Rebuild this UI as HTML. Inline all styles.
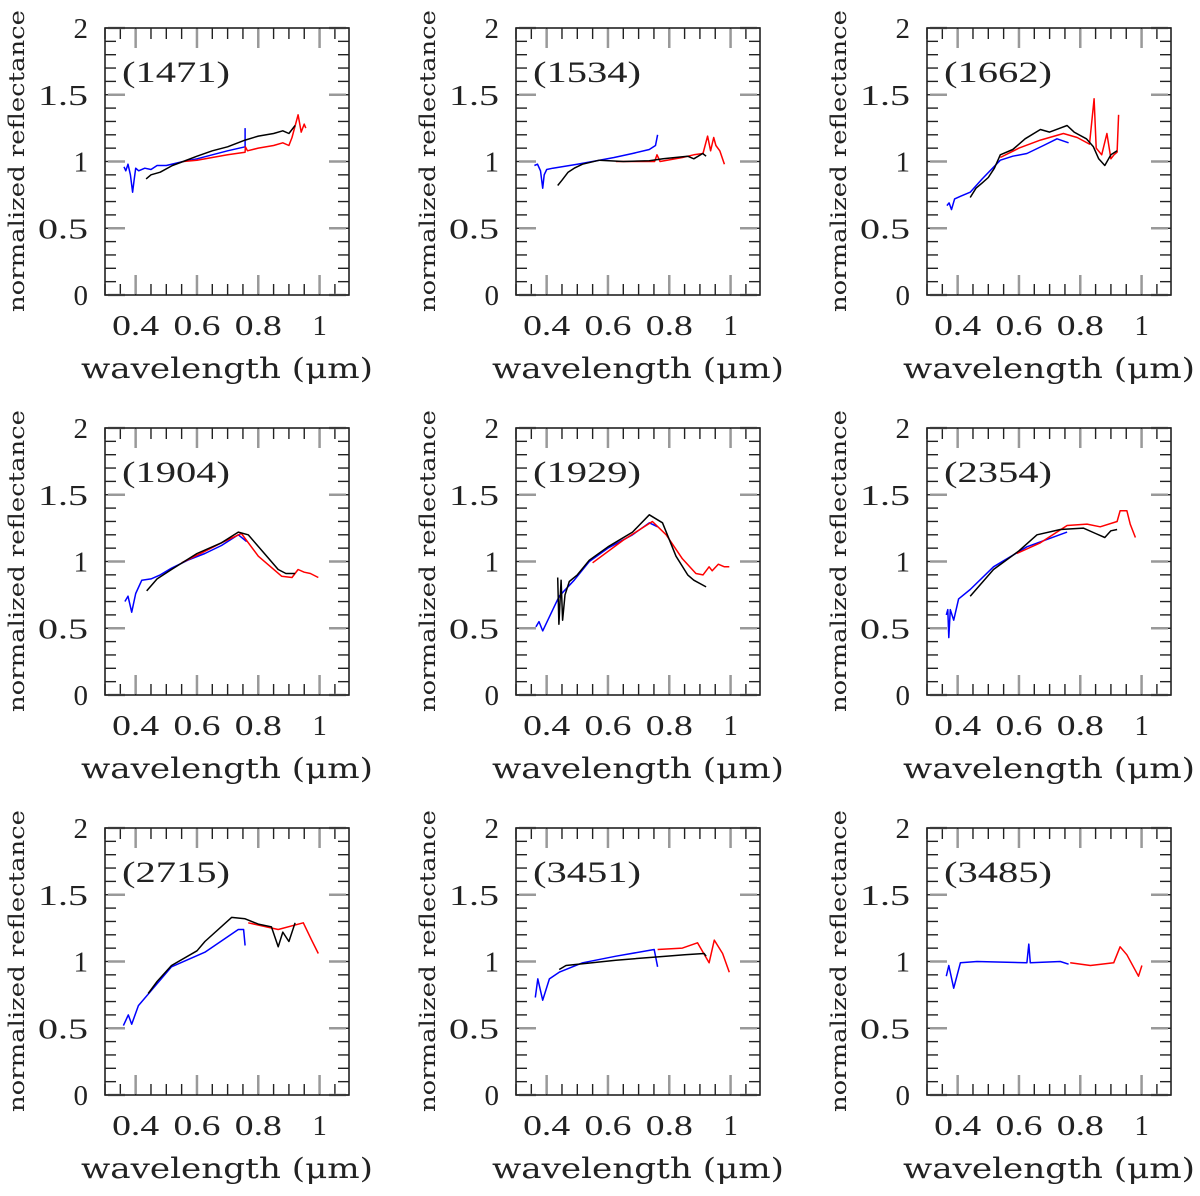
<!DOCTYPE html>
<html><head><meta charset="utf-8">
<style>
html,body{margin:0;padding:0;background:#fff;}
svg{display:block;}
text{font-family:"Liberation Serif",serif;fill:#222;}
text.title{font-family:"DejaVu Serif","Liberation Serif",serif;}
</style></head>
<body>
<svg id="fig" width="1200" height="1196" viewBox="0 0 1200 1196" xmlns="http://www.w3.org/2000/svg"></svg>
<script>
// ---- data: [wavelength (um), normalized reflectance] ----
const panelNames = ["(1471)","(1534)","(1662)","(1904)","(1929)","(2354)","(2715)","(3451)","(3485)"];
const xTicks = [0.4,0.6,0.8,1.0];
const xTickLabels = ["0.4","0.6","0.8","1"];
const yTicks = [0,0.5,1,1.5,2];
const yTickLabels = ["0","0.5","1","1.5","2"];

const blue1471 = [[0.362,0.96],[0.368,0.93],[0.375,0.98],[0.383,0.90],[0.39,0.77],[0.395,0.86],[0.40,0.95],[0.41,0.93],[0.43,0.95],[0.45,0.94],[0.47,0.97],[0.50,0.97],[0.555,1.0],[0.60,1.02],[0.65,1.05],[0.70,1.08],[0.757,1.11],[0.757,1.25]];
const black1471 = [[0.434,0.87],[0.45,0.90],[0.48,0.92],[0.52,0.97],[0.555,1.0],[0.60,1.04],[0.65,1.08],[0.70,1.11],[0.757,1.16],[0.80,1.19],[0.85,1.21],[0.88,1.23],[0.90,1.21],[0.92,1.27]];
const red1471 = [[0.555,1.0],[0.60,1.01],[0.65,1.03],[0.70,1.05],[0.757,1.07],[0.758,1.11],[0.765,1.08],[0.80,1.10],[0.85,1.12],[0.88,1.14],[0.90,1.12],[0.91,1.18],[0.93,1.35],[0.94,1.22],[0.95,1.28],[0.955,1.25]];

const blue1534 = [[0.36,0.97],[0.37,0.98],[0.38,0.93],[0.387,0.80],[0.392,0.90],[0.40,0.94],[0.42,0.95],[0.45,0.96],[0.50,0.98],[0.572,1.01],[0.62,1.03],[0.68,1.06],[0.735,1.09],[0.755,1.12],[0.762,1.2]];
const black1534 = [[0.436,0.82],[0.45,0.86],[0.47,0.92],[0.49,0.95],[0.517,0.98],[0.572,1.01],[0.65,1.0],[0.735,1.006],[0.78,1.02],[0.82,1.03],[0.86,1.04],[0.88,1.02],[0.909,1.06],[0.92,1.04]];
const red1534 = [[0.626,1.0],[0.70,1.0],[0.752,1.0],[0.76,1.05],[0.77,1.0],[0.843,1.03],[0.88,1.05],[0.91,1.06],[0.925,1.19],[0.935,1.08],[0.945,1.18],[0.952,1.12],[0.965,1.08],[0.98,0.98]];

const blue1662 = [[0.365,0.67],[0.372,0.69],[0.38,0.64],[0.39,0.72],[0.41,0.74],[0.441,0.77],[0.48,0.87],[0.539,1.01],[0.58,1.04],[0.626,1.06],[0.68,1.12],[0.724,1.17],[0.762,1.14]];
const black1662 = [[0.441,0.73],[0.46,0.80],[0.48,0.84],[0.50,0.88],[0.52,0.95],[0.539,1.05],[0.58,1.09],[0.62,1.17],[0.67,1.24],[0.70,1.22],[0.757,1.27],[0.78,1.22],[0.82,1.17],[0.843,1.11],[0.86,1.02],[0.88,0.97],[0.90,1.05],[0.92,1.08]];
const red1662 = [[0.539,1.03],[0.60,1.10],[0.67,1.16],[0.745,1.21],[0.79,1.18],[0.83,1.13],[0.845,1.47],[0.852,1.10],[0.87,1.05],[0.887,1.21],[0.90,1.02],[0.91,1.05],[0.92,1.07],[0.925,1.35]];

const blue1904 = [[0.365,0.70],[0.375,0.74],[0.387,0.62],[0.40,0.76],[0.42,0.86],[0.45,0.87],[0.48,0.90],[0.517,0.95],[0.57,1.01],[0.626,1.06],[0.68,1.12],[0.735,1.2],[0.762,1.15]];
const black1904 = [[0.436,0.78],[0.47,0.87],[0.517,0.94],[0.60,1.06],[0.68,1.14],[0.735,1.22],[0.767,1.2],[0.82,1.06],[0.865,0.94],[0.89,0.91],[0.92,0.91]];
const red1904 = [[0.55,0.99],[0.62,1.07],[0.68,1.14],[0.745,1.21],[0.80,1.04],[0.876,0.89],[0.91,0.88],[0.93,0.94],[0.95,0.92],[0.97,0.91],[0.996,0.88]];

const blue1929 = [[0.365,0.51],[0.375,0.55],[0.387,0.48],[0.41,0.59],[0.441,0.74],[0.49,0.86],[0.539,1.0],[0.60,1.10],[0.68,1.2],[0.735,1.29],[0.762,1.26]];
const black1929 = [[0.436,0.88],[0.44,0.53],[0.447,0.86],[0.452,0.56],[0.46,0.75],[0.474,0.85],[0.50,0.90],[0.539,1.01],[0.60,1.11],[0.68,1.22],[0.735,1.35],[0.778,1.29],[0.822,1.04],[0.86,0.90],[0.88,0.86],[0.92,0.81]];
const red1929 = [[0.55,0.99],[0.65,1.16],[0.745,1.3],[0.79,1.2],[0.843,1.02],[0.887,0.91],[0.91,0.90],[0.93,0.96],[0.94,0.93],[0.96,0.98],[0.98,0.96],[0.996,0.96]];

const blue2354 = [[0.363,0.60],[0.368,0.64],[0.371,0.43],[0.376,0.64],[0.387,0.56],[0.403,0.72],[0.441,0.79],[0.517,0.96],[0.626,1.11],[0.757,1.22]];
const black2354 = [[0.441,0.74],[0.517,0.94],[0.60,1.08],[0.659,1.2],[0.735,1.24],[0.81,1.25],[0.85,1.21],[0.88,1.18],[0.90,1.23],[0.92,1.24]];
const red2354 = [[0.593,1.06],[0.67,1.14],[0.757,1.27],[0.822,1.28],[0.865,1.26],[0.92,1.3],[0.93,1.38],[0.952,1.38],[0.963,1.28],[0.98,1.18]];

const blue2715 = [[0.36,0.52],[0.376,0.60],[0.387,0.53],[0.409,0.67],[0.517,0.96],[0.626,1.07],[0.735,1.24],[0.752,1.24],[0.757,1.12]];
const black2715 = [[0.441,0.76],[0.47,0.85],[0.517,0.97],[0.60,1.08],[0.626,1.15],[0.713,1.33],[0.757,1.32],[0.80,1.28],[0.843,1.26],[0.865,1.11],[0.88,1.22],[0.90,1.15],[0.92,1.29]];
const red2715 = [[0.767,1.29],[0.865,1.24],[0.947,1.29],[0.974,1.16],[0.996,1.06]];

const blue3451 = [[0.363,0.73],[0.371,0.87],[0.387,0.71],[0.409,0.87],[0.441,0.92],[0.517,0.99],[0.626,1.04],[0.751,1.09],[0.762,0.96]];
const black3451 = [[0.441,0.94],[0.463,0.97],[0.626,1.01],[0.789,1.04],[0.85,1.05],[0.914,1.06],[0.92,1.04]];
const red3451 = [[0.762,1.09],[0.843,1.1],[0.892,1.14],[0.93,0.99],[0.947,1.16],[0.974,1.06],[0.996,0.92]];

const blue3485 = [[0.363,0.89],[0.371,0.97],[0.387,0.80],[0.409,0.99],[0.463,1.0],[0.626,0.99],[0.632,1.13],[0.637,0.99],[0.735,1.0],[0.762,0.98]];
const red3485 = [[0.767,0.99],[0.833,0.97],[0.909,0.99],[0.93,1.11],[0.952,1.05],[0.99,0.89],[1.001,0.97]];

const panelSeries = [
  [blue1471,black1471,red1471],[blue1534,black1534,red1534],[blue1662,black1662,red1662],
  [blue1904,black1904,red1904],[blue1929,black1929,red1929],[blue2354,black2354,red2354],
  [blue2715,black2715,red2715],[blue3451,black3451,red3451],[blue3485,null,red3485]
];

const NS = "http://www.w3.org/2000/svg";
const svg = document.getElementById("fig");
const colLeft = [105,516,927], rowTop = [28,428,828];
const PW = 244, PH = 267, XMIN = 0.3, XMAX = 1.096, YMIN = 0, YMAX = 2;
function mk(tag, attrs, parent){ const e=document.createElementNS(NS,tag); for(const k in attrs) e.setAttribute(k,attrs[k]); parent.appendChild(e); return e; }

panelNames.forEach((name, i) => {
  const L = colLeft[i%3], T = rowTop[Math.floor(i/3)];
  const xs = v => L + (v - XMIN) / (XMAX - XMIN) * PW;
  const ys = v => T + PH - (v - YMIN) / (YMAX - YMIN) * PH;
  const g = mk("g", {}, svg);
  
  

  for (let k = 0; k <= 16; k++) {
    const v = 0.3 + k*0.05; const x = xs(v);
    if (x > L+PW) break;
    const t1 = mk("line",{x1:x,y1:T+PH,x2:x,y2:T+PH-11,stroke:"#222","stroke-width":1.4},g);
     
    const t2 = mk("line",{x1:x,y1:T,x2:x,y2:T+11,stroke:"#222","stroke-width":1.4},g);
     
  }
  for (let k = 0; k <= 20; k++) {
    const y = ys(k*0.1);
    const t1 = mk("line",{x1:L,y1:y,x2:L+11,y2:y,stroke:"#222","stroke-width":1.4},g);
     
    const t2 = mk("line",{x1:L+PW,y1:y,x2:L+PW-11,y2:y,stroke:"#222","stroke-width":1.4},g);
     
  }
  xTicks.forEach((v, j) => {
    const x = xs(v);
    const a = mk("line",{x1:x,y1:T+PH-1,x2:x,y2:T+PH-20,stroke:"#999","stroke-width":2.5},g);
     
    const b = mk("line",{x1:x,y1:T+1,x2:x,y2:T+20,stroke:"#999","stroke-width":2.5},g);
     
    const lbl = xTickLabels[j];
    const tx = mk("text",{x:x,y:T+PH+40,"text-anchor":"middle","font-size":29},g);
    if (lbl.length > 1) { tx.setAttribute("textLength", 47); tx.setAttribute("lengthAdjust","spacingAndGlyphs"); }
    tx.textContent = lbl;
     
  });
  yTicks.forEach((v, j) => {
    const y = ys(v);
    const a = mk("line",{x1:L+3,y1:y,x2:L+20,y2:y,stroke:"#999","stroke-width":2.5},g);
     
    const b = mk("line",{x1:L+PW-3,y1:y,x2:L+PW-20,y2:y,stroke:"#999","stroke-width":2.5},g);
     
    const lbl = yTickLabels[j];
    const tx = mk("text",{x:L-17,y:y+10,"text-anchor":"end","font-size":29},g);
    if (lbl.length > 1) { tx.setAttribute("textLength", 50); tx.setAttribute("lengthAdjust","spacingAndGlyphs"); }
    tx.textContent = lbl;
     
  });
  const fr = mk("rect",{x:L,y:T,width:PW,height:PH,fill:"none",stroke:"#222","stroke-width":1.6},g);
   

  const colors = ["#0000ff","#000000","#ff0000"];
  const snames = ["blue-spectrum","black-spectrum","red-spectrum"];
  const order = [0,2,1];
  order.forEach(s => {
    const data = panelSeries[i][s];
    if (!data) return;
    const d = data.map((p,k)=>(k?"L":"M")+xs(p[0]).toFixed(1)+","+ys(p[1]).toFixed(1)).join("");
    const path = mk("path",{d:d,fill:"none",stroke:colors[s],"stroke-width":1.5,"stroke-linejoin":"round"},g);
    
    
  });

  const pl = mk("text",{x:L+17,y:T+54,"font-size":30,textLength:108,lengthAdjust:"spacingAndGlyphs"},g);
  pl.textContent = name;
   

  const xt = mk("text",{class:"title",x:L-24,y:T+350,"font-size":28,textLength:292,lengthAdjust:"spacingAndGlyphs"},g);
  xt.textContent = "wavelength (\u03bcm)";
   
  const cy = T + 133;
  const yt = mk("text",{class:"title",x:0,y:0,"font-size":21,"text-anchor":"middle",textLength:302,lengthAdjust:"spacingAndGlyphs",transform:"translate("+(L-81)+","+cy+") rotate(-90)"},g);
  yt.textContent = "normalized reflectance";
   
});
</script>
</body></html>
